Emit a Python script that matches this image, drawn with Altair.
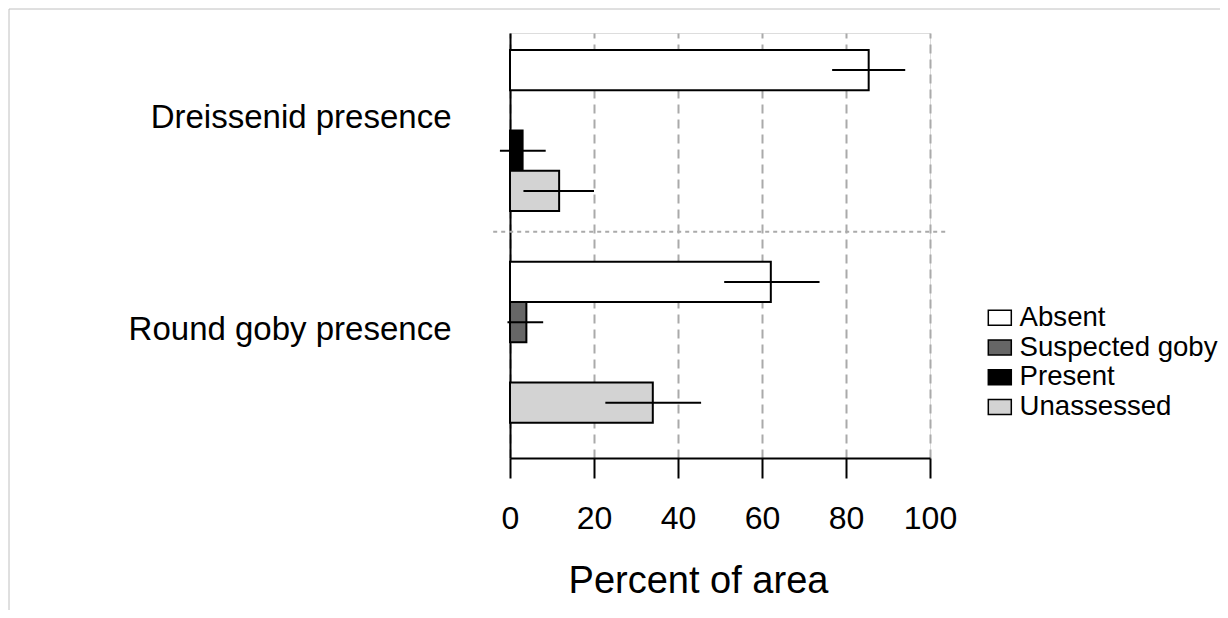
import altair as alt
import pandas as pd

FONT = "Liberation Sans"

groups = ["Dreissenid presence", "Round goby presence"]
categories = ["Absent", "Suspected goby", "Present", "Unassessed"]
fills = ["#ffffff", "#666666", "#000000", "#d3d3d3"]

# percent of area (None = no bar in that group)
dreissenid_pct = [85.4, None, 3.0, 11.7]
dreissenid_lo = [76.7, None, -2.4, 3.2]
dreissenid_hi = [94.1, None, 8.5, 20.0]
goby_pct = [62.1, 3.9, None, 34.0]
goby_lo = [51.0, -0.6, None, 22.7]
goby_hi = [73.7, 7.9, None, 45.5]

x_ticks = [0, 20, 40, 60, 80, 100]

rows = []
for g, pct, lo, hi in [
    (groups[0], dreissenid_pct, dreissenid_lo, dreissenid_hi),
    (groups[1], goby_pct, goby_lo, goby_hi),
]:
    for c, p, l, h in zip(categories, pct, lo, hi):
        if p is not None:
            rows.append(dict(group=g, category=c, pct=p, lo=l, hi=h))
df = pd.DataFrame(rows)
one = pd.DataFrame({"k": [0]})

xscale = alt.Scale(domain=[0, 100], nice=False, zero=True)
yscale = alt.Scale(domain=groups, paddingInner=0.24, paddingOuter=0.123, align=0.326)
yoff = alt.YOffset(
    "category:N",
    scale=alt.Scale(domain=categories, paddingInner=0, paddingOuter=0),
)

x_axis = alt.Axis(
    values=x_ticks, format="d", grid=True, gridDash=[9, 6], gridColor="#aaaaaa",
    gridWidth=2, domainColor="black", domainWidth=2, tickColor="black",
    tickWidth=2, tickSize=20, labelFontSize=32, labelFont=FONT,
    labelColor="black", labelPadding=25, labelFlush=False,
    title="Percent of area", titleFontSize=38, titleFont=FONT,
    titleFontWeight="normal", titleColor="black", titleX=188, titleY=134,
    titleAlign="center", titleBaseline="alphabetic",
)
y_axis = alt.Axis(
    title=None, domain=True, domainColor="black", domainWidth=2, ticks=False,
    tickSize=0, labelFontSize=33, labelFont=FONT, labelColor="black",
    labelPadding=59, labelOffset=-12, grid=False, labelLimit=500,
)

bars = alt.Chart(df).mark_bar(stroke="black", strokeWidth=2, clip=False).encode(
    x=alt.X("pct:Q", scale=xscale, axis=x_axis),
    y=alt.Y("group:N", scale=yscale, axis=y_axis),
    yOffset=yoff,
    fill=alt.Fill(
        "category:N",
        scale=alt.Scale(domain=categories, range=fills),
        legend=alt.Legend(
            title=None, orient="none", legendX=476, legendY=271,
            symbolType="M-1,-0.65L1,-0.65L1,0.65L-1,0.65Z", symbolSize=529,
            symbolStrokeColor="black", symbolStrokeWidth=1.5, symbolOpacity=1,
            labelFontSize=27.6, labelFont=FONT, labelColor="black",
            labelOffset=6, rowPadding=0.7, padding=0, labelLimit=400,
        ),
    ),
)

errs = alt.Chart(df).mark_rule(color="black", strokeWidth=2, clip=False).encode(
    x=alt.X("lo:Q", scale=xscale),
    x2="hi:Q",
    y=alt.Y("group:N", scale=yscale),
    yOffset=yoff,
)

sep = alt.Chart(one).mark_rule(
    color="#aaaaaa", strokeWidth=2, strokeDash=[4, 4], clip=False, yOffset=20.7
).encode(
    x=alt.datum(-4),
    x2=alt.datum(104),
    y=alt.YDatum(groups[0], type="nominal", bandPosition=1),
)

frame_top = alt.Chart(one).mark_rule(color="#c0c0c0", strokeWidth=1).encode(
    x=alt.value(-501), x2=alt.value(720), y=alt.value(-24)
)
frame_left = alt.Chart(one).mark_rule(color="#c0c0c0", strokeWidth=1).encode(
    x=alt.value(-501), y=alt.value(-24), y2=alt.value(600)
)

chart = alt.layer(sep, bars, errs, frame_top, frame_left).properties(
    width=420,
    height=425,
    autosize=alt.AutoSizeParams(type="none"),
    padding={"left": 502, "top": 25, "right": 290, "bottom": 152},
).configure_view(stroke=None).configure(background="white")

chart.save("out.html", embed_options={"renderer": "svg", "actions": False})
